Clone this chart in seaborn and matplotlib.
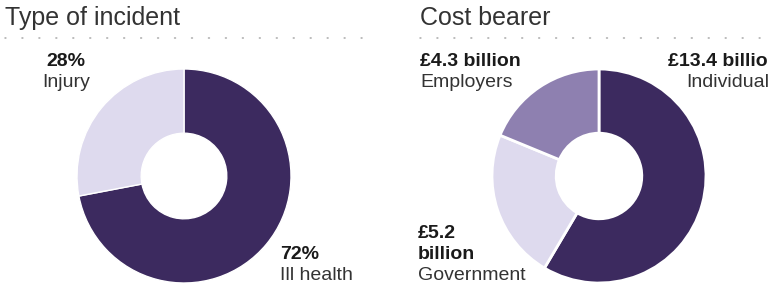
import matplotlib
matplotlib.use("Agg")
import matplotlib.pyplot as plt
import seaborn as sns
from matplotlib.lines import Line2D

# === Data ===
incident_labels = ["Ill health", "Injury"]
incident_pct = [72, 28]

bearer_labels = ["Individuals", "Government", "Employers"]
bearer_bn = [13.4, 5.2, 4.3]

# === Style ===
sns.set_theme(style="white")
plt.rcParams["font.family"] = ["Liberation Sans", "DejaVu Sans"]

dark = "#3c2a5f"
light = "#dedaee"
mid = "#8e80b0"
incident_colors = [dark, light]
bearer_colors = [dark, light, mid]

W, H = 769, 284
fig = plt.figure(figsize=(W / 100, H / 100), dpi=100)
fig.patch.set_facecolor("white")


def px(x, y):
    # pixel coords (from top-left) -> figure fraction
    return x / W, 1 - y / H


def donut(cx, cy, r, values, colors, lw):
    ax = fig.add_axes([(cx - r) / W, (H - cy - r) / H, 2 * r / W, 2 * r / H])
    ax.pie(values, colors=colors, startangle=90, counterclock=False,
           wedgeprops=dict(width=0.6, edgecolor="white", linewidth=lw))
    ax.set_xlim(-1, 1)
    ax.set_ylim(-1, 1)
    ax.set_aspect("equal")
    ax.axis("off")
    return ax


donut(184, 176, 107, incident_pct, incident_colors, 1.0)
donut(599, 176, 107, bearer_bn, bearer_colors, 2.0)

# === Titles and dotted rules ===
title_kw = dict(fontsize=18, color="#333333", va="baseline")
fig.text(*px(5, 25), "Type of incident", **title_kw)
fig.text(*px(420, 25), "Cost bearer", **title_kw)

for x0, x1 in [(5, 364), (420, 769)]:
    (a, b), (c, d) = px(x0, 38), px(x1, 38)
    fig.add_artist(Line2D([a, c], [b, d], transform=fig.transFigure,
                          color="#a8a8a8", linewidth=1.1,
                          linestyle=(0, (0.6, 10.5)), dash_capstyle="round"))

# === Labels ===
bold = dict(fontsize=14, fontweight="bold", color="#1a1a1a", va="baseline")
reg = dict(fontsize=14, color="#333333", va="baseline")

# type of incident
fig.text(*px(66, 66), f"{incident_pct[1]}%", ha="center", **bold)
fig.text(*px(66, 87), incident_labels[1], ha="center", **reg)
fig.text(*px(280, 259), f"{incident_pct[0]}%", ha="left", **bold)
fig.text(*px(280, 280), incident_labels[0], ha="left", **reg)

# cost bearer
fig.text(*px(420, 66), f"£{bearer_bn[2]} billion", ha="left", **bold)
fig.text(*px(420, 87), bearer_labels[2], ha="left", **reg)
fig.text(*px(780, 66), f"£{bearer_bn[0]} billion", ha="right", **bold)
fig.text(*px(779, 87), bearer_labels[0], ha="right", **reg)
fig.text(*px(418, 238), f"£{bearer_bn[1]}", ha="left", **bold)
fig.text(*px(418, 259), "billion", ha="left", **bold)
fig.text(*px(418, 280), bearer_labels[1], ha="left", **reg)

fig.savefig("out.png", dpi=100, facecolor="white")
